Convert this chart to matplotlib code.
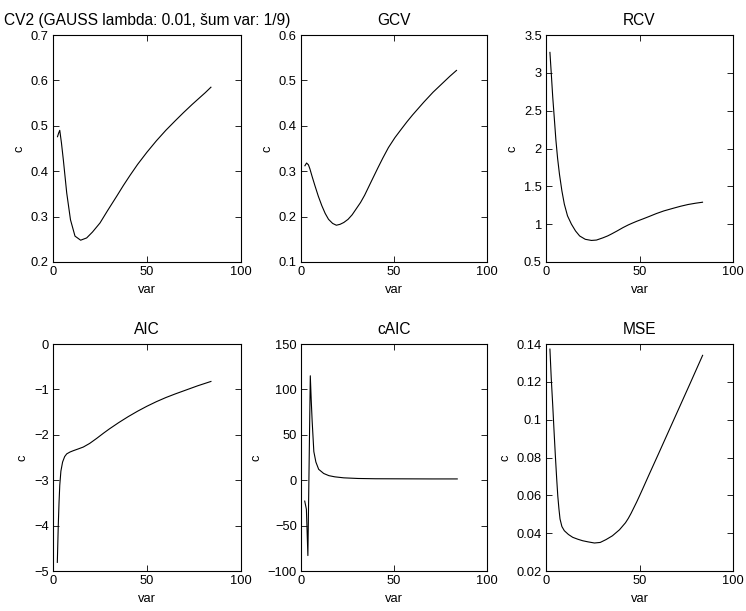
import matplotlib
matplotlib.use("Agg")
import matplotlib.pyplot as plt

plt.rcParams["font.family"] = ["Liberation Sans", "DejaVu Sans"]
plt.rcParams["font.size"] = 9.3

cv2_x = [2.4, 3.0, 3.6, 4.5, 5.5, 7.3, 9.3, 11.7, 14.7, 17.9, 21, 25, 29, 33.9, 37.5, 41, 45, 50, 55, 60, 65,
         69.4, 74, 78.3, 81, 84]
cv2_y = [0.476, 0.484, 0.49, 0.462, 0.425, 0.352, 0.293, 0.257, 0.248, 0.253, 0.266, 0.286, 0.313, 0.345, 0.369,
         0.391, 0.415, 0.442, 0.467, 0.490, 0.511, 0.529, 0.547, 0.563, 0.573, 0.585]

gcv_x = [2.1, 3.0, 4.0, 4.8, 6, 7.5, 9.3, 11.2, 13, 14.8, 17, 19, 21, 23, 25.3, 27.5, 29.5, 32, 34.2, 37.5, 41.3,
         44, 47, 50.5, 54, 57, 60, 63, 66, 71, 76.4, 80, 83.6]
gcv_y = [0.312, 0.318, 0.314, 0.305, 0.288, 0.268, 0.245, 0.224, 0.207, 0.194, 0.185, 0.181, 0.183, 0.187, 0.194,
         0.204, 0.216, 0.231, 0.247, 0.275, 0.307, 0.329, 0.352, 0.374, 0.393, 0.409, 0.424, 0.438, 0.452, 0.474,
         0.495, 0.509, 0.522]

rcv_x = [2.1, 2.8, 3.6, 4.5, 5.3, 6.2, 7.2, 8.5, 9.8, 11.5, 13.6, 15.8, 18, 21, 24.3, 27, 30.5, 33, 35, 38,
         41.2, 44, 46, 48.5, 51.9, 55, 59, 63, 68, 72, 76, 80, 83.7]
rcv_y = [3.27, 3.0, 2.68, 2.38, 2.11, 1.87, 1.66, 1.44, 1.265, 1.11, 1.0, 0.91, 0.844, 0.80, 0.785, 0.79, 0.82,
         0.845, 0.87, 0.91, 0.955, 0.99, 1.012, 1.038, 1.07, 1.10, 1.14, 1.175, 1.21, 1.237, 1.26, 1.277, 1.29]

aic_x = [2.3, 2.8, 3.2, 3.6, 4.2, 5.1, 6.2, 7.3, 9, 10.8, 13.5, 16.1, 19.5, 23.2, 27, 30, 35, 40, 45, 50, 55, 60,
         65, 70, 77, 84]
aic_y = [-4.81, -4.0, -3.5, -3.11, -2.8, -2.6, -2.48, -2.42, -2.38, -2.35, -2.31, -2.27, -2.19, -2.08, -1.96,
         -1.87, -1.73, -1.6, -1.48, -1.37, -1.27, -1.18, -1.10, -1.025, -0.92, -0.825]

caic_x = [2, 2.9, 3.7, 5.0, 5.5, 6.0, 6.9, 8.0, 9.5, 12.2, 15, 18.2, 23, 30.6, 40, 55, 70, 84]
caic_y = [-23, -32, -83, 115, 88, 65, 31.5, 20, 12, 7.4, 5, 3.7, 2.6, 1.9, 1.6, 1.5, 1.4, 1.4]

mse_x = [2.1, 2.8, 3.6, 4.3, 5.0, 5.7, 6.3, 6.9, 7.5, 8.5, 9.8, 12, 14.3, 17, 19.6, 22.5, 25.9, 29, 32.1, 35.5,
         39.3, 42.5, 44, 45.5, 47, 48.5, 50, 51.7, 55, 60, 65, 70, 77, 83.75]
mse_y = [0.1373, 0.122, 0.1076, 0.094, 0.081, 0.069, 0.0597, 0.053, 0.0475, 0.0435, 0.0413, 0.0393, 0.0378,
         0.0368, 0.036, 0.0354, 0.0348, 0.0351, 0.0366, 0.0386, 0.0418, 0.0455, 0.0478, 0.0505, 0.0535, 0.0565,
         0.0597, 0.0634, 0.0707, 0.0816, 0.0926, 0.1036, 0.119, 0.134]

titles = ["CV2 (GAUSS lambda: 0.01, šum var: 1/9)", "GCV", "RCV", "AIC", "cAIC", "MSE"]
ylims = [(0.2, 0.7), (0.1, 0.6), (0.5, 3.5), (-5, 0), (-100, 150), (0.02, 0.14)]
yticks = [[0.2, 0.3, 0.4, 0.5, 0.6, 0.7],
          [0.1, 0.2, 0.3, 0.4, 0.5, 0.6],
          [0.5, 1, 1.5, 2, 2.5, 3, 3.5],
          [-5, -4, -3, -2, -1, 0],
          [-100, -50, 0, 50, 100, 150],
          [0.02, 0.04, 0.06, 0.08, 0.1, 0.12, 0.14]]
xticks = [0, 50, 100]

W, H = 746, 611
cols = [(53, 188), (301, 186), (546, 187)]
rows = [(35, 262), (344, 571)]

fig = plt.figure(figsize=(W / 100, H / 100), dpi=100)
series = [(cv2_x, cv2_y), (gcv_x, gcv_y), (rcv_x, rcv_y), (aic_x, aic_y), (caic_x, caic_y), (mse_x, mse_y)]

for i, (xs, ys) in enumerate(series):
    left, width = cols[i % 3]
    top, bottom = rows[i // 3]
    ax = fig.add_axes([left / W, 1 - bottom / H, width / W, (bottom - top) / H])
    ax.plot(xs, ys, color="black", linewidth=0.8)
    ax.set_xlim(0, 100)
    ax.set_ylim(*ylims[i])
    ax.set_xticks(xticks)
    ax.set_yticks(yticks[i])
    ax.set_yticklabels([f"{v:g}".replace("-", "\u2212") for v in yticks[i]])
    ax.tick_params(direction="in", top=True, right=True, length=4, width=0.6, pad=3)
    for s in ax.spines.values():
        s.set_linewidth(0.8)
    ax.set_title(titles[i], pad=7)
    ax.set_xlabel("var", labelpad=4)
    ax.set_ylabel("c", labelpad=4)

fig.savefig("out.png", dpi=100)
